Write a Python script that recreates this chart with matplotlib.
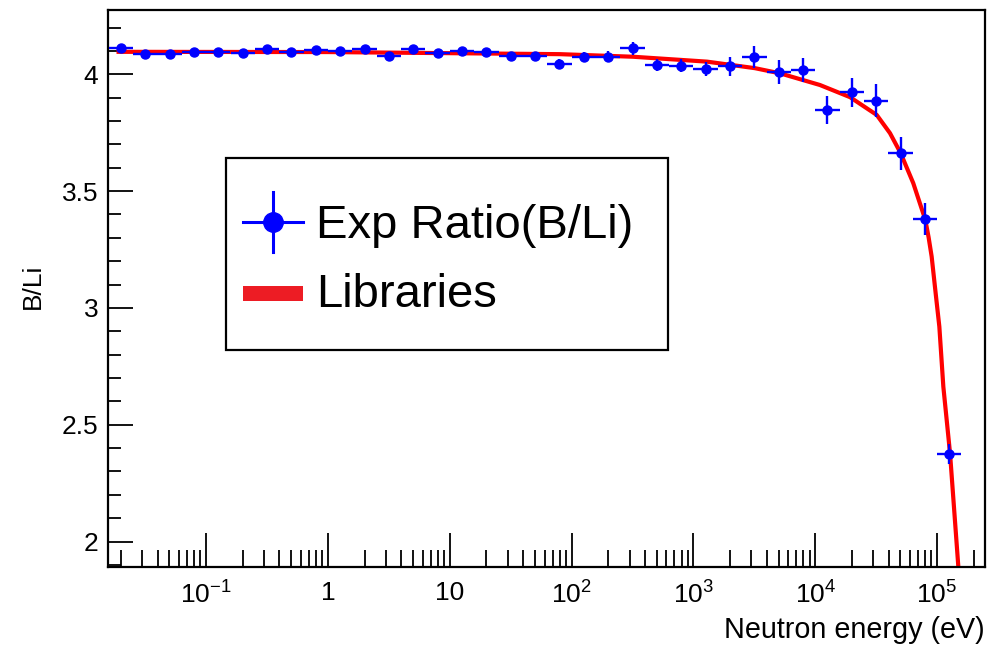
import matplotlib
matplotlib.use("Agg")
import matplotlib.pyplot as plt
from matplotlib.lines import Line2D
from matplotlib.patches import Rectangle
from matplotlib.ticker import LogLocator, FixedLocator, MultipleLocator, FixedFormatter, NullFormatter
import numpy as np

plt.rcParams['font.family'] = ['Liberation Sans', 'DejaVu Sans']
plt.rcParams['mathtext.default'] = 'regular'

# ---- data ----
energy_ev = [0.02, 0.0317, 0.0502, 0.0796, 0.126, 0.2, 0.317, 0.502, 0.796, 1.26,
             2.0, 3.17, 5.02, 7.96, 12.6, 20.0, 31.7, 50.2, 79.6, 126.0,
             200.0, 317.0, 502.0, 796.0, 1260.0, 2000.0, 3170.0, 5020.0, 7960.0, 12600.0,
             20000.0, 31700.0, 50200.0, 79600.0, 126000.0]
exp_ratio = [4.111, 4.087, 4.086, 4.094, 4.097, 4.091, 4.108, 4.097, 4.105, 4.101,
             4.107, 4.080, 4.108, 4.091, 4.100, 4.097, 4.078, 4.080, 4.046, 4.073,
             4.076, 4.111, 4.040, 4.037, 4.021, 4.034, 4.075, 4.009, 4.019, 3.847,
             3.922, 3.887, 3.662, 3.380, 2.375]
exp_err = [0.010, 0.010, 0.010, 0.010, 0.010, 0.010, 0.010, 0.010, 0.010, 0.010,
           0.010, 0.010, 0.010, 0.012, 0.012, 0.013, 0.014, 0.015, 0.018, 0.021,
           0.025, 0.029, 0.026, 0.028, 0.030, 0.041, 0.048, 0.050, 0.052, 0.058,
           0.063, 0.072, 0.070, 0.068, 0.041]
bin_half_width_dec = 0.1  # half bin width in decades

lib_energy_ev = [0.0184, 1.0, 80.4, 319.0, 1294.0, 3206.0, 5140.0, 10940.0, 19320.0,
                 31990.0, 41110.0, 50350.0, 63830.0, 80170.0, 85310.0, 90360.0, 98170.0,
                 104500.0, 112700.0, 127900.0, 149600.0]
lib_ratio = [4.096, 4.095, 4.086, 4.075, 4.054, 4.026, 4.004, 3.954, 3.902,
             3.826, 3.748, 3.662, 3.534, 3.377, 3.302, 3.220, 3.048,
             2.920, 2.663, 2.378, 1.893]

x_major = [1e-1, 1, 10, 1e2, 1e3, 1e4, 1e5]
x_major_labels = [r'$10^{-1}$', '1', '10', r'$10^{2}$', r'$10^{3}$', r'$10^{4}$', r'$10^{5}$']
y_major = [2, 2.5, 3, 3.5, 4]
y_major_labels = ['2', '2.5', '3', '3.5', '4']

# ---- figure ----
W, H = 1004, 648
fig = plt.figure(figsize=(W / 100, H / 100), dpi=100)

def fx(px):
    return px / W

def fy(py):
    return 1 - py / H

ax_l, ax_r, ax_t, ax_b = 108, 985.5, 10, 567.3
ax = fig.add_axes([fx(ax_l), fy(ax_b), fx(ax_r) - fx(ax_l), fy(ax_t) - fy(ax_b)])

ax.set_xscale('log')
ax.set_xlim(10 ** -1.805, 10 ** 5.398)
ax.set_ylim(1.89, 4.275)

# library curve
ax.plot(lib_energy_ev, lib_ratio, color='#ff0000', lw=3.0, zorder=2,
        solid_capstyle='butt', solid_joinstyle='round')

# experimental points
e = np.array(energy_ev)
f = 10 ** bin_half_width_dec
xlo = e - e / f
xhi = e * f - e
ax.errorbar(energy_ev, exp_ratio, xerr=[xlo, xhi], yerr=exp_err, fmt='o',
            color='#0000ff', ms=6.5, elinewidth=1.7, capsize=0, zorder=3)

# ticks
ax.xaxis.set_major_locator(FixedLocator(x_major))
ax.xaxis.set_major_formatter(FixedFormatter(x_major_labels))
ax.xaxis.set_minor_locator(LogLocator(base=10, subs=np.arange(2, 10), numticks=50))
ax.xaxis.set_minor_formatter(NullFormatter())
ax.yaxis.set_major_locator(FixedLocator(y_major))
ax.yaxis.set_major_formatter(FixedFormatter(y_major_labels))
ax.yaxis.set_minor_locator(MultipleLocator(0.1))

ax.tick_params(axis='x', which='major', direction='in', length=24.5, width=1.3,
               top=False, bottom=True, labelsize=19, pad=10, colors='black')
ax.tick_params(axis='x', which='minor', direction='in', length=12.2, width=1.3,
               top=False, bottom=True)
ax.tick_params(axis='y', which='major', direction='in', length=18, width=1.3,
               right=False, left=True, labelsize=19, pad=7)
ax.tick_params(axis='y', which='minor', direction='in', length=9, width=1.3,
               right=False, left=True)
for s in ax.spines.values():
    s.set_linewidth(1.6)

# axis titles
fig.text(fx(985), fy(638.3), 'Neutron energy (eV)', ha='right', va='baseline', fontsize=20.7)
fig.text(fx(33), fy(286), 'B/Li', ha='center', va='center', rotation=90, fontsize=19)

# legend (manual, ROOT style)
fig.patches.append(Rectangle((fx(226), fy(350)), fx(668.3) - fx(226), fy(158.3) - fy(350),
                             transform=fig.transFigure, fill=False, ec='black', lw=1.6))
fig.lines.append(Line2D([fx(243), fx(303)], [fy(221.7), fy(221.7)], transform=fig.transFigure,
                        color='#0000ff', lw=2.2))
fig.lines.append(Line2D([fx(273.3), fx(273.3)], [fy(191.7), fy(251.7)], transform=fig.transFigure,
                        color='#0000ff', lw=2.2))
fig.lines.append(Line2D([fx(273.3)], [fy(221.7)], transform=fig.transFigure, marker='o',
                        ms=14, color='#0000ff', lw=0))
fig.patches.append(Rectangle((fx(243), fy(301)), fx(303) - fx(243), fy(286) - fy(301),
                             transform=fig.transFigure, color='#ed1c24', lw=0))
fig.text(fx(316), fy(238.3), 'Exp Ratio(B/Li)', ha='left', va='baseline', fontsize=34)
fig.text(fx(316), fy(306.7), 'Libraries', ha='left', va='baseline', fontsize=34)

fig.savefig('out.png', dpi=100)
